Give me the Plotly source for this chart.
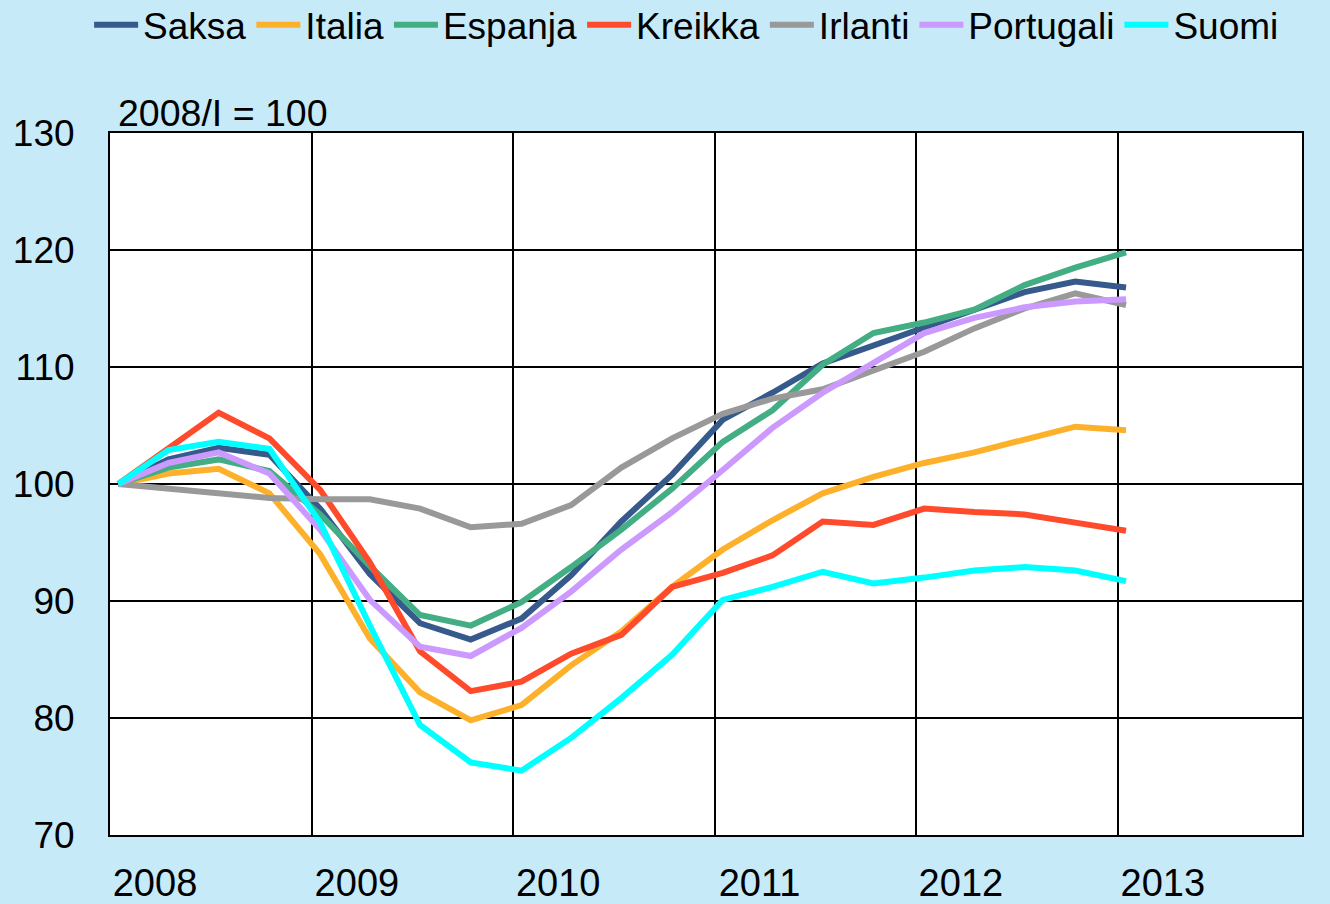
import pandas as pd
import plotly.graph_objects as go

# Quarterly observations 2008/I ... 2013/I
quarters = pd.period_range("2008Q1", "2013Q1", freq="Q")

saksa = [100, 102.1, 103.1, 102.5, 97.9, 92.3, 88.1, 86.7, 88.5, 92.2, 96.8,
         100.8, 105.5, 107.8, 110.3, 111.8, 113.3, 114.9, 116.4, 117.3, 116.8]
italia = [100, 100.9, 101.3, 99.2, 94.0, 86.8, 82.2, 79.8, 81.1, 84.5, 87.4,
          91.2, 94.4, 96.9, 99.2, 100.6, 101.8, 102.7, 103.8, 104.9, 104.6]
espanja = [100, 101.4, 102.1, 101.1, 97.4, 93.0, 88.8, 87.9, 89.9, 92.9, 96.1,
           99.6, 103.6, 106.3, 110.2, 112.9, 113.8, 114.9, 117.0, 118.5, 119.8]
kreikka = [100, 103.1, 106.1, 103.9, 99.5, 93.3, 85.7, 82.3, 83.1, 85.5, 87.1,
           91.2, 92.4, 93.9, 96.8, 96.5, 97.9, 97.6, 97.4, 96.7, 96.0]
irlanti = [100, 99.6, 99.1, 98.8, 98.7, 98.7, 97.9, 96.3, 96.6, 98.2, 101.4,
           103.9, 106.0, 107.3, 108.1, 109.7, 111.3, 113.3, 115.0, 116.3, 115.3]
portugali = [100, 101.8, 102.7, 100.9, 96.1, 90.1, 86.1, 85.3, 87.7, 90.8, 94.4,
             97.6, 101.2, 104.8, 107.8, 110.4, 112.9, 114.2, 115.1, 115.6, 115.8]
suomi = [100, 102.9, 103.6, 103.0, 96.7, 87.9, 79.4, 76.2, 75.5, 78.3, 81.7,
         85.4, 90.1, 91.2, 92.5, 91.5, 92.0, 92.6, 92.9, 92.6, 91.7]

series_names = ["Saksa", "Italia", "Espanja", "Kreikka", "Irlanti", "Portugali", "Suomi"]
series_values = [saksa, italia, espanja, kreikka, irlanti, portugali, suomi]
colors = ["#375A8C", "#FDB12B", "#43AE83", "#FF4B2B", "#999999", "#CC99FF", "#00FFFF"]

year_ticks = ["2008", "2009", "2010", "2011", "2012", "2013"]

# each quarter plotted at the middle of its first month (date axis)
x_dates = [q.start_time + pd.Timedelta(days=15) for q in quarters]

FONT = "Liberation Sans, Arial, sans-serif"

fig = go.Figure()
for name, vals, col in zip(series_names, series_values, colors):
    fig.add_trace(go.Scatter(
        x=x_dates, y=vals, name=name, mode="lines",
        line=dict(color=col, width=6),
    ))

fig.update_layout(
    width=1330, height=904,
    margin=dict(l=110, r=28, t=133, b=69),
    paper_bgcolor="#C6EAF8",
    plot_bgcolor="#FFFFFF",
    font=dict(family=FONT, size=36, color="#000000"),
    showlegend=True,
    legend=dict(
        orientation="h",
        xref="container", yref="container",
        x=0.067, y=0.972, xanchor="left", yanchor="middle",
        font=dict(size=37, family=FONT),
        bgcolor="rgba(0,0,0,0)",
        itemwidth=44,
        tracegroupgap=0,
    ),
    annotations=[dict(
        text="2008/I = 100", xref="paper", yref="paper",
        x=0.0, y=1.0, xanchor="left", yanchor="bottom", yshift=-3, xshift=6,
        showarrow=False, font=dict(size=37.5, family=FONT),
    )],
)

fig.update_xaxes(
    type="date",
    range=["2008-01-01", "2013-12-01"],
    tickvals=[f"{y}-01-01" for y in year_ticks],
    ticktext=year_ticks,
    showgrid=True, gridcolor="#000000", gridwidth=1.5,
    showline=True, linecolor="#000000", linewidth=2, mirror=True,
    ticks="", ticklabelstandoff=13, ticklabelshift=45,
    tickfont=dict(size=38, family=FONT),
    zeroline=False, automargin=False,
)
fig.update_yaxes(
    range=[70, 130], dtick=10, tick0=70,
    showgrid=True, gridcolor="#000000", gridwidth=1.5,
    showline=True, linecolor="#000000", linewidth=2, mirror=True,
    ticks="", ticklabelstandoff=26,
    tickfont=dict(size=37, family=FONT),
    zeroline=False, automargin=False,
)

fig.write_html(
    "out.html",
    config={"displayModeBar": False},
    post_script="document.body.style.margin='0';document.body.style.padding='0';document.documentElement.style.overflow='hidden';",
)
